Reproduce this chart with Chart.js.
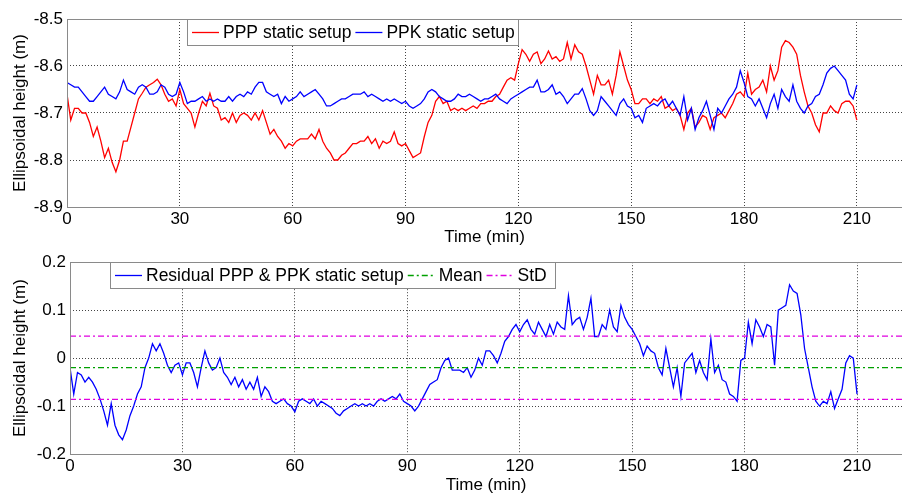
<!DOCTYPE html>
<html>
<head>
<meta charset="utf-8">
<script src="https://cdn.jsdelivr.net/npm/chart.js@4"></script>
<style>
  html, body { margin: 0; padding: 0; background: #fff; }
  #wrap { position: relative; width: 902px; height: 496px; overflow: hidden; }
  .panel { position: absolute; left: 0; width: 902px; height: 248px; }
</style>
</head>
<body>
<div id="wrap">
  <div class="panel" style="top:0"><canvas id="heightChart" width="902" height="248"></canvas></div>
  <div class="panel" style="top:248px"><canvas id="residualChart" width="902" height="248"></canvas></div>
</div>
<script>
// one sample per minute, starting at t = 0
const sampleStep = 1;
const timeTicks = [0, 30, 60, 90, 120, 150, 180, 210];

const pppHeight = [
  -8.660, -8.715, -8.690, -8.690, -8.700, -8.700, -8.720, -8.750, -8.730, -8.760,
  -8.795, -8.775, -8.805, -8.825, -8.800, -8.760, -8.760, -8.730, -8.700, -8.670,
  -8.658, -8.645, -8.640, -8.635, -8.628, -8.640, -8.660, -8.675, -8.670, -8.685,
  -8.650, -8.680, -8.690, -8.700, -8.730, -8.700, -8.675, -8.685, -8.658, -8.685,
  -8.690, -8.715, -8.710, -8.720, -8.700, -8.720, -8.705, -8.700, -8.705, -8.715,
  -8.700, -8.715, -8.695, -8.720, -8.745, -8.735, -8.750, -8.760, -8.775, -8.765,
  -8.770, -8.760, -8.755, -8.755, -8.755, -8.745, -8.755, -8.735, -8.760, -8.775,
  -8.785, -8.800, -8.800, -8.790, -8.785, -8.775, -8.765, -8.765, -8.760, -8.760,
  -8.750, -8.765, -8.755, -8.775, -8.760, -8.765, -8.760, -8.740, -8.765, -8.770,
  -8.765, -8.780, -8.795, -8.790, -8.785, -8.750, -8.720, -8.705, -8.675, -8.665,
  -8.680, -8.675, -8.695, -8.690, -8.695, -8.690, -8.695, -8.690, -8.685, -8.690,
  -8.680, -8.680, -8.675, -8.675, -8.665, -8.660, -8.645, -8.630, -8.625, -8.630,
  -8.595, -8.565, -8.575, -8.590, -8.575, -8.570, -8.595, -8.585, -8.568, -8.585,
  -8.580, -8.590, -8.585, -8.550, -8.585, -8.555, -8.570, -8.575, -8.600, -8.630,
  -8.660, -8.620, -8.640, -8.640, -8.630, -8.660, -8.620, -8.570, -8.600, -8.630,
  -8.650, -8.680, -8.680, -8.670, -8.670, -8.680, -8.670, -8.675, -8.665, -8.690,
  -8.685, -8.695, -8.690, -8.705, -8.735, -8.700, -8.690, -8.730, -8.720, -8.705,
  -8.710, -8.735, -8.710, -8.705, -8.700, -8.710, -8.695, -8.680, -8.660, -8.655,
  -8.665, -8.615, -8.660, -8.650, -8.645, -8.630, -8.655, -8.600, -8.630, -8.610,
  -8.560, -8.546, -8.550, -8.560, -8.575, -8.620, -8.655, -8.685, -8.700, -8.725,
  -8.740, -8.700, -8.700, -8.685, -8.695, -8.700, -8.680, -8.675, -8.675, -8.685,
  -8.715
];

const ppkHeight = [
  -8.635, -8.640, -8.645, -8.645, -8.655, -8.665, -8.675, -8.675, -8.665, -8.655,
  -8.645, -8.660, -8.665, -8.670, -8.655, -8.630, -8.650, -8.655, -8.660, -8.645,
  -8.640, -8.645, -8.660, -8.660, -8.655, -8.640, -8.645, -8.660, -8.665, -8.660,
  -8.635, -8.655, -8.680, -8.675, -8.675, -8.670, -8.665, -8.675, -8.670, -8.675,
  -8.670, -8.675, -8.675, -8.665, -8.675, -8.665, -8.660, -8.665, -8.655, -8.660,
  -8.645, -8.635, -8.635, -8.655, -8.660, -8.665, -8.660, -8.680, -8.665, -8.675,
  -8.670, -8.665, -8.655, -8.665, -8.660, -8.655, -8.650, -8.660, -8.670, -8.685,
  -8.685, -8.680, -8.675, -8.670, -8.670, -8.665, -8.660, -8.660, -8.660, -8.655,
  -8.665, -8.660, -8.665, -8.670, -8.675, -8.670, -8.675, -8.670, -8.675, -8.680,
  -8.675, -8.685, -8.690, -8.685, -8.680, -8.670, -8.655, -8.650, -8.655, -8.665,
  -8.670, -8.675, -8.675, -8.670, -8.660, -8.665, -8.665, -8.660, -8.665, -8.670,
  -8.675, -8.670, -8.670, -8.665, -8.660, -8.670, -8.675, -8.680, -8.670, -8.665,
  -8.660, -8.655, -8.650, -8.645, -8.645, -8.630, -8.655, -8.655, -8.650, -8.640,
  -8.660, -8.655, -8.665, -8.680, -8.670, -8.660, -8.660, -8.648, -8.670, -8.695,
  -8.705, -8.695, -8.665, -8.675, -8.685, -8.695, -8.705, -8.680, -8.670, -8.685,
  -8.690, -8.710, -8.705, -8.720, -8.690, -8.685, -8.680, -8.685, -8.675, -8.670,
  -8.685, -8.675, -8.690, -8.705, -8.665, -8.715, -8.690, -8.735, -8.710, -8.695,
  -8.675, -8.705, -8.735, -8.690, -8.700, -8.685, -8.670, -8.660, -8.645, -8.610,
  -8.635, -8.665, -8.670, -8.685, -8.670, -8.690, -8.710, -8.680, -8.660, -8.690,
  -8.650, -8.665, -8.675, -8.640, -8.675, -8.690, -8.700, -8.685, -8.680, -8.665,
  -8.660, -8.640, -8.615, -8.605, -8.600, -8.610, -8.620, -8.630, -8.660, -8.670,
  -8.640
];

const residualHeight = [
  -0.020, -0.075, -0.030, -0.035, -0.050, -0.040, -0.050, -0.065, -0.085, -0.110,
  -0.140, -0.095, -0.140, -0.160, -0.170, -0.150, -0.120, -0.100, -0.075, -0.060,
  -0.020,  0.000,  0.030,  0.015,  0.030,  0.010, -0.015, -0.030, -0.015, -0.010,
  -0.035, -0.010, -0.010, -0.030, -0.060, -0.020,  0.015, -0.010, -0.025, -0.020,
   0.000, -0.030, -0.040, -0.055, -0.040, -0.060, -0.045, -0.065, -0.050, -0.065,
  -0.040, -0.080, -0.060, -0.070, -0.090, -0.095, -0.090, -0.085, -0.095, -0.100,
  -0.112, -0.090, -0.085, -0.090, -0.095, -0.085, -0.100, -0.090, -0.095, -0.100,
  -0.105, -0.115, -0.120, -0.110, -0.105, -0.100, -0.095, -0.100, -0.095, -0.100,
  -0.095, -0.100, -0.090, -0.085, -0.090, -0.085, -0.080, -0.085, -0.075, -0.090,
  -0.095, -0.100, -0.110, -0.100, -0.085, -0.070, -0.055, -0.050, -0.045, -0.020,
  -0.005,  0.000, -0.025, -0.025, -0.025, -0.030, -0.020, -0.040, -0.025,  0.000,
  -0.015,  0.015,  0.015,  0.005, -0.010,  0.010,  0.035,  0.045,  0.060,  0.070,
   0.055,  0.070,  0.080,  0.060,  0.050,  0.075,  0.060,  0.045,  0.070,  0.050,
   0.075,  0.065,  0.060,  0.130,  0.070,  0.080,  0.085,  0.060,  0.085,  0.125,
   0.045,  0.045,  0.070,  0.060,  0.100,  0.065,  0.055,  0.110,  0.085,  0.070,
   0.060,  0.045,  0.030,  0.005,  0.025,  0.015,  0.010, -0.020, -0.035,  0.020,
  -0.020, -0.060, -0.020, -0.080, -0.010,  0.000,  0.010, -0.030, -0.005, -0.030,
  -0.045,  0.040, -0.030, -0.015, -0.045, -0.050, -0.075, -0.080, -0.090, -0.005,
   0.000,  0.075,  0.030,  0.080,  0.065,  0.045,  0.070,  0.065, -0.015,  0.100,
   0.105,  0.110,  0.153,  0.140,  0.135,  0.090,  0.020, -0.020, -0.060, -0.090,
  -0.100, -0.090, -0.095, -0.070, -0.105, -0.085, -0.065, -0.010,  0.005,  0.000,
  -0.075
];

const residualMean = -0.020;
const residualStd = 0.066;

const heightTicks = [-8.9, -8.8, -8.7, -8.6, -8.5];
const residualTicks = [-0.2, -0.1, 0, 0.1, 0.2];

const FONT = "'Liberation Sans', Arial, sans-serif";
const X_MAX = 222; // axes run a little past the last labelled tick

function toPoints(values) {
    return values.map((v, i) => ({ x: i * sampleStep, y: v }));
}

function flatLine(value) {
    return [{ x: 0, y: value }, { x: X_MAX, y: value }];
}

// axes box + legend drawn on top of the plot, MATLAB style
function frameAndLegend(legend) {
    return {
        id: 'frameAndLegend',
        afterDatasetsDraw(chart) {
            const ctx = chart.ctx;
            const a = chart.chartArea;
            ctx.save();
            ctx.strokeStyle = '#8a8a8a';
            ctx.lineWidth = 1;
            ctx.setLineDash([]);
            ctx.strokeRect(Math.round(a.left) + 0.5, Math.round(a.top) + 0.5,
                           Math.round(a.right - a.left) + 2, Math.round(a.bottom - a.top));

            ctx.font = '17.5px ' + FONT;
            ctx.textBaseline = 'middle';
            const bx = legend.left, by = Math.round(a.top) + 0.5, bh = legend.height;
            ctx.fillStyle = '#fff';
            ctx.fillRect(bx, by, legend.width, bh);
            ctx.strokeStyle = '#8a8a8a';
            ctx.strokeRect(bx + 0.5, by, legend.width, bh);

            let x = bx + 5;
            const cy = by + bh / 2;
            legend.items.forEach(it => {
                ctx.strokeStyle = it.color;
                ctx.lineWidth = 1.3;
                ctx.setLineDash(it.dash || []);
                ctx.beginPath();
                ctx.moveTo(x, cy);
                ctx.lineTo(x + 27, cy);
                ctx.stroke();
                ctx.setLineDash([]);
                x += 27 + 4;
                ctx.fillStyle = '#000';
                ctx.fillText(it.label, x, cy + 1);
                x += ctx.measureText(it.label).width + 4;
            });
            ctx.restore();
        }
    };
}

function makeOptions(cfg) {
    return {
        responsive: false,
        animation: false,
        devicePixelRatio: 1,
        layout: { padding: { top: cfg.top, left: 0, right: 0, bottom: 0 } },
        plugins: { legend: { display: false }, tooltip: { enabled: false } },
        elements: { point: { radius: 0 }, line: { tension: 0 } },
        scales: {
            x: {
                type: 'linear',
                min: 0,
                max: X_MAX,
                afterBuildTicks: s => { s.ticks = timeTicks.map(v => ({ value: v })); },
                afterFit: s => { s.height = cfg.xHeight; },
                ticks: { color: '#000', font: { family: FONT, size: 17 }, padding: 2, maxRotation: 0 },
                grid: { color: '#444', drawTicks: false, lineWidth: 1 },
                border: { display: false, dash: [1, 2] },
                title: { display: true, text: 'Time (min)', color: '#000',
                         font: { family: FONT, size: 17 }, padding: 0 }
            },
            y: {
                min: cfg.yTicks[0],
                max: cfg.yTicks[cfg.yTicks.length - 1],
                afterBuildTicks: s => { s.ticks = cfg.yTicks.map(v => ({ value: v })); },
                afterFit: s => { s.width = cfg.yWidth; },
                ticks: { color: '#000', font: { family: FONT, size: 17 }, padding: 4,
                         callback: v => cfg.fmt(v) },
                grid: { color: '#444', drawTicks: false, lineWidth: 1 },
                border: { display: false, dash: [1, 2] },
                title: { display: true, text: 'Ellipsoidal height (m)', color: '#000',
                         font: { family: FONT, size: 17 }, padding: { top: 10, bottom: 0 } }
            }
        }
    };
}

new Chart(document.getElementById('heightChart'), {
    type: 'line',
    data: {
        datasets: [
            { label: 'PPK static setup', data: toPoints(ppkHeight), borderColor: '#0000ff',
              borderWidth: 1.3, order: 0 },
            { label: 'PPP static setup', data: toPoints(pppHeight), borderColor: '#ff0000',
              borderWidth: 1.3, order: 1 }
        ]
    },
    options: makeOptions({ top: 19, xHeight: 41, yWidth: 67, yTicks: heightTicks,
                           fmt: v => v.toFixed(1) }),
    plugins: [frameAndLegend({
        left: 187, width: 331, height: 26,
        items: [
            { label: 'PPP static setup', color: '#ff0000' },
            { label: 'PPK static setup', color: '#0000ff' }
        ]
    })]
});

new Chart(document.getElementById('residualChart'), {
    type: 'line',
    data: {
        datasets: [
            { label: 'Mean', data: flatLine(residualMean), borderColor: '#00a000',
              borderWidth: 1.2, borderDash: [6, 3, 2, 3], order: 0 },
            { label: 'StD', data: flatLine(residualMean + residualStd), borderColor: '#e000e0',
              borderWidth: 1.2, borderDash: [6, 3, 2, 3], order: 0 },
            { label: 'StD', data: flatLine(residualMean - residualStd), borderColor: '#e000e0',
              borderWidth: 1.2, borderDash: [6, 3, 2, 3], order: 0 },
            { label: 'Residual PPP & PPK static setup', data: toPoints(residualHeight),
              borderColor: '#0000ff', borderWidth: 1.3, order: 1 }
        ]
    },
    options: makeOptions({ top: 14, xHeight: 42, yWidth: 70, yTicks: residualTicks,
                           fmt: v => (Math.abs(v) < 1e-9 ? '0' : v.toFixed(1)) }),
    plugins: [frameAndLegend({
        left: 110, width: 445, height: 26,
        items: [
            { label: 'Residual PPP & PPK static setup', color: '#0000ff' },
            { label: 'Mean', color: '#00a000', dash: [6, 3, 2, 3] },
            { label: 'StD', color: '#e000e0', dash: [6, 3, 2, 3] }
        ]
    })]
});
</script>
</body>
</html>
